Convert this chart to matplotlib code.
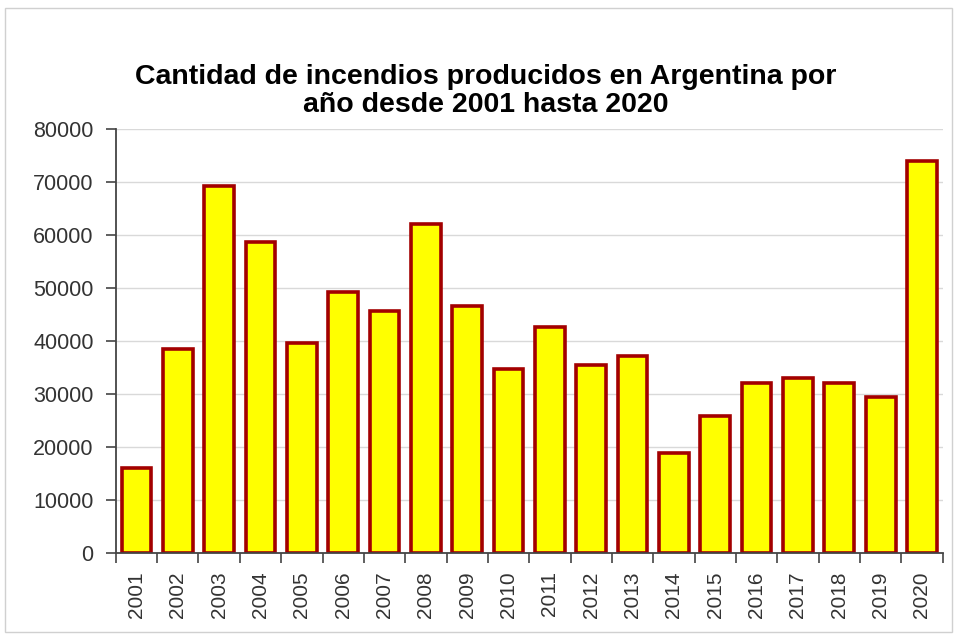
import matplotlib.pyplot as plt
from matplotlib import patches
import numpy as np

plt.rcParams['font.family'] = ['Liberation Sans', 'DejaVu Sans']

years = [str(y) for y in range(2001, 2021)]
incendios = [16000, 38500, 69300, 58700, 39700, 49300, 45700, 62000, 46600, 34800,
             42700, 35500, 37200, 18900, 25800, 32000, 33000, 32000, 29400, 74000]
y_ticks = list(range(0, 80001, 10000))

fig = plt.figure(figsize=(9.57, 6.35), dpi=100)
ax = fig.add_axes([0.121, 0.129, 0.864, 0.668])

# marco gris alrededor del grafico
fig.patches.append(patches.Rectangle((0.005, 0.005), 0.99, 0.982, transform=fig.transFigure,
                                     fill=False, edgecolor='#d0d0d0', linewidth=1))

x = np.arange(len(years))
ax.bar(x, incendios, width=0.72, color='#ffff00', edgecolor='#a30000', linewidth=2.6, zorder=3)

ax.set_xlim(-0.5, len(years) - 0.5)
ax.set_ylim(0, 80000)
ax.set_yticks(y_ticks)
ax.set_yticklabels([str(v) for v in y_ticks], fontsize=15.5, color='#333333')
ax.yaxis.grid(True, color='#d9d9d9', linewidth=1, zorder=0)

ax.set_xticks(x)
ax.set_xticklabels(years, rotation=90, fontsize=15, color='#333333')
ax.set_xticks(np.arange(-0.5, len(years)), minor=True)
ax.tick_params(axis='x', which='major', length=0, pad=13)
ax.tick_params(axis='x', which='minor', length=7, width=1.2, color='#444444', direction='out')
ax.tick_params(axis='y', length=7, width=1.2, color='#444444', direction='out', pad=9)

for side in ['top', 'right']:
    ax.spines[side].set_visible(False)
for side in ['left', 'bottom']:
    ax.spines[side].set_color('#444444')
    ax.spines[side].set_linewidth(1.3)
ax.spines['bottom'].set_zorder(4)

fig.text(0.508, 0.857, 'Cantidad de incendios producidos en Argentina por\naño desde 2001 hasta 2020',
         ha='center', va='center', fontsize=20.5, fontweight='bold', linespacing=1.1)

fig.savefig('out.png', dpi=100)
